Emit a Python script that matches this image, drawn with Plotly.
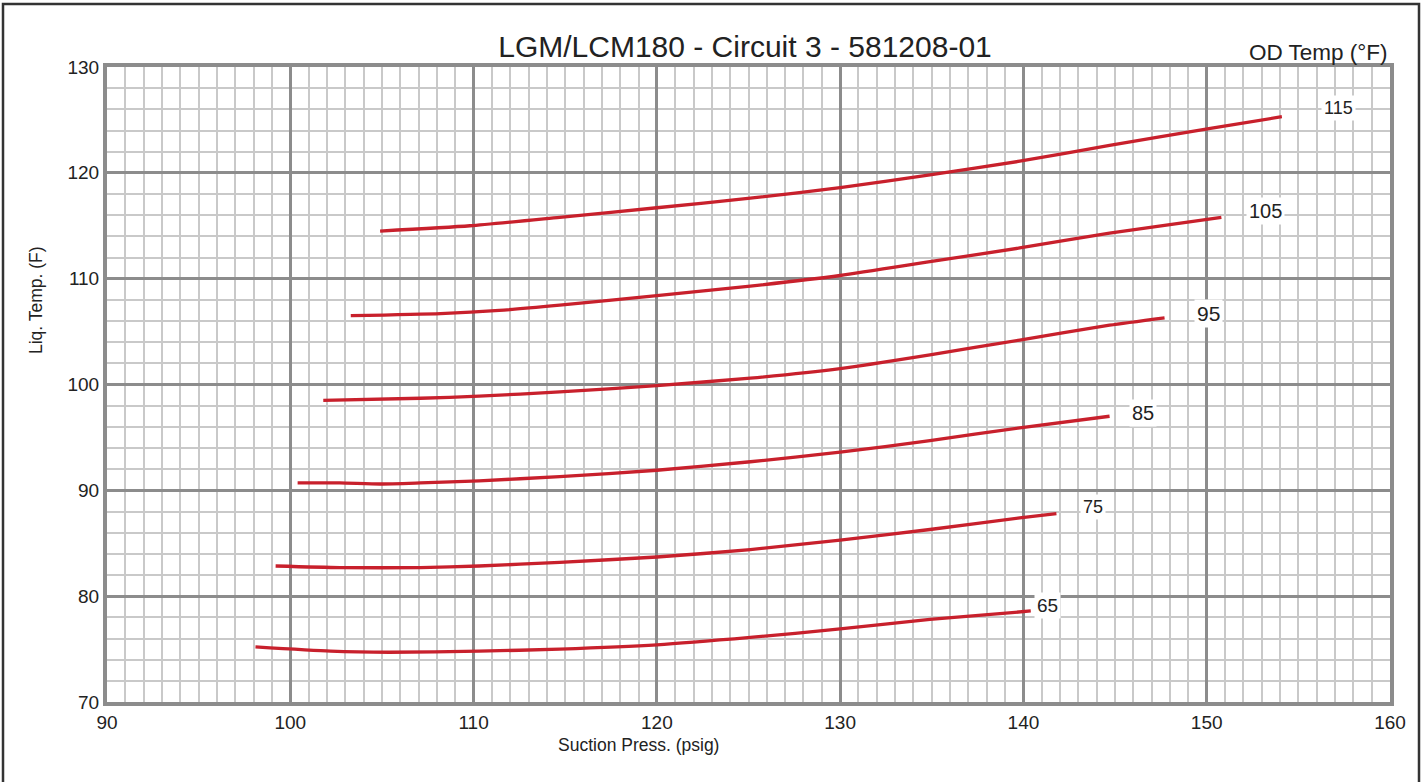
import plotly.graph_objects as go

# OD temperature series (suction pressure psig, liquid temp F)
od_temps = ["115", "105", "95", "85", "75", "65"]

x_115 = [104.9, 109.8, 114.7, 120.0, 125.1, 130.0, 134.9, 139.8, 144.7, 150.2, 154.1]
y_115 = [114.5, 115.0, 115.8, 116.7, 117.6, 118.6, 119.8, 121.1, 122.6, 124.2, 125.3]

x_105 = [103.3, 108.2, 111.4, 114.7, 120.0, 125.1, 130.0, 134.9, 139.8, 144.7, 150.8]
y_105 = [106.5, 106.7, 107.0, 107.5, 108.4, 109.3, 110.3, 111.6, 112.9, 114.3, 115.8]

x_95 = [101.8, 107.1, 110.3, 114.7, 120.0, 125.1, 130.0, 134.9, 139.8, 144.7, 147.7]
y_95 = [98.5, 98.7, 98.9, 99.3, 99.9, 100.6, 101.5, 102.8, 104.2, 105.6, 106.3]

x_85 = [100.4, 102.7, 104.9, 107.1, 110.3, 114.7, 120.0, 125.1, 130.0, 134.9, 139.8, 144.7]
y_85 = [90.7, 90.7, 90.6, 90.7, 90.9, 91.3, 91.9, 92.7, 93.6, 94.7, 95.9, 97.0]

x_75 = [99.2, 102.7, 107.1, 110.3, 114.7, 120.0, 125.1, 130.0, 134.9, 139.8, 141.8]
y_75 = [82.85, 82.7, 82.7, 82.85, 83.2, 83.7, 84.4, 85.3, 86.3, 87.4, 87.8]

x_65 = [98.1, 102.2, 105.4, 110.3, 114.7, 120.0, 125.1, 130.0, 134.9, 140.4]
y_65 = [75.2, 74.8, 74.7, 74.8, 75.0, 75.4, 76.1, 76.9, 77.8, 78.6]

label_x = [157.2, 153.2, 150.1, 146.5, 143.8, 141.3]
label_y = [126.1, 116.4, 106.7, 97.3, 88.4, 79.1]

x_ticks = [90, 100, 110, 120, 130, 140, 150, 160]
y_ticks = [70, 80, 90, 100, 110, 120, 130]

series_x = [x_115, x_105, x_95, x_85, x_75, x_65]
series_y = [y_115, y_105, y_95, y_85, y_75, y_65]

RED = "#c8202c"
FONT = "Liberation Sans, Arial, sans-serif"

fig = go.Figure()
for name, xs, ys in zip(od_temps, series_x, series_y):
    fig.add_trace(go.Scatter(x=xs, y=ys, mode="lines", name=name,
                             line=dict(color=RED, width=3.3, shape="spline", smoothing=0.6),
                             showlegend=False, hoverinfo="x+y"))

label_sizes = [18, 20, 21, 20, 18, 19]
for name, lx, ly, fs in zip(od_temps, label_x, label_y, label_sizes):
    fig.add_annotation(x=lx, y=ly, text=name, showarrow=False,
                       font=dict(family=FONT, size=fs, color="#222"),
                       bgcolor="white", borderpad=2)

fig.update_layout(
    width=1421, height=782,
    margin=dict(l=107, r=31, t=67, b=80),
    paper_bgcolor="white", plot_bgcolor="white",
    font=dict(family=FONT, color="#222"),
    title=dict(text="LGM/LCM180 - Circuit 3 - 581208-01", x=(745 / 1421), xanchor="center",
               y=1 - 46 / 782, yanchor="middle",
               font=dict(family=FONT, size=30, color="#222")),
    xaxis=dict(range=[90, 160], tickvals=x_ticks, ticktext=[str(v) for v in x_ticks],
               showgrid=True, gridcolor="#8c8c8c", gridwidth=3,
               minor=dict(dtick=1, showgrid=True, gridcolor="#c9c9c9", gridwidth=1.5),
               zeroline=False, showline=True, linecolor="#8c8c8c", linewidth=4, mirror=True,
               ticks="", ticklen=0, tickfont=dict(size=19, family=FONT, color="#222")),
    yaxis=dict(range=[70, 130], tickvals=y_ticks, ticktext=[str(v) for v in y_ticks],
               showgrid=True, gridcolor="#8c8c8c", gridwidth=3,
               minor=dict(dtick=2, showgrid=True, gridcolor="#c9c9c9", gridwidth=1.5),
               zeroline=False, showline=True, linecolor="#8c8c8c", linewidth=4, mirror=True,
               ticks="", ticklen=0, tickfont=dict(size=19, family=FONT, color="#222")),
)

# axis titles
fig.add_annotation(xref="paper", yref="paper", x=(638 - 107) / 1283, y=-(745 - 702) / 635,
                   text="Suction Press. (psig)", showarrow=False, yanchor="middle",
                   font=dict(family=FONT, size=17.5, color="#222"))
fig.add_annotation(xref="paper", yref="paper", x=-(107 - 36) / 1283, y=(702 - 300) / 635,
                   text="Liq. Temp. (F)", showarrow=False, textangle=-90, xanchor="center",
                   font=dict(family=FONT, size=17.5, color="#222"))
fig.add_annotation(xref="paper", yref="paper", x=1.0, y=(702 - 52) / 635,
                   text="OD Temp (°F)", showarrow=False, xanchor="right", yanchor="middle",
                   font=dict(family=FONT, size=22.5, color="#222"))

# outer frame
fig.add_shape(type="rect", xref="paper", yref="paper",
              x0=-(107 - 3) / 1283, x1=(1419 - 107) / 1283,
              y0=-(800 - 702) / 635, y1=(702 - 4) / 635,
              line=dict(color="#333", width=2.5), layer="below")

fig.write_html("out.html", config={"displayModeBar": False},
               post_script="document.body.style.margin='0';document.body.style.overflow='hidden';")
